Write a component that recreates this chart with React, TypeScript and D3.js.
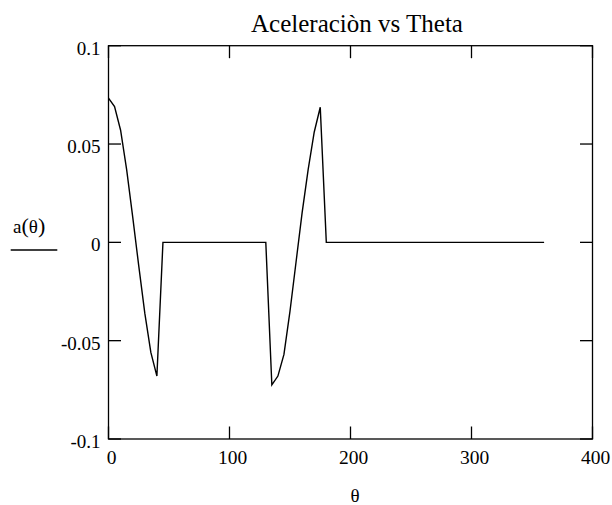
import React from "react";
import * as d3 from "d3";

const theta = [
  0, 5, 10, 15, 20, 25, 30, 35, 40, 45, 50, 55, 60, 65, 70, 75, 80, 85, 90, 95,
  100, 105, 110, 115, 120, 125, 130, 135, 140, 145, 150, 155, 160, 165, 170, 175,
  180, 185, 190, 195, 200, 205, 210, 215, 220, 225, 230, 235, 240, 245, 250, 255,
  260, 265, 270, 275, 280, 285, 290, 295, 300, 305, 310, 315, 320, 325, 330, 335,
  340, 345, 350, 355, 360,
];

const accel = [
  0.0733, 0.069, 0.057, 0.037, 0.013, -0.012, -0.036, -0.056, -0.068,
  0, 0, 0, 0, 0, 0, 0, 0, 0, 0, 0, 0, 0, 0, 0, 0, 0, 0,
  -0.0725, -0.068, -0.057, -0.035, -0.01, 0.015, 0.037, 0.056, 0.0687,
  0, 0, 0, 0, 0, 0, 0, 0, 0, 0, 0, 0, 0, 0, 0, 0, 0, 0, 0, 0, 0, 0, 0, 0, 0,
  0, 0, 0, 0, 0, 0, 0, 0, 0, 0, 0, 0,
];

const xTicks = [0, 100, 200, 300, 400];
const yTicks = [0.1, 0.05, 0, -0.05, -0.1];
const yTickLabels = ["0.1", "0.05", "0", "-0.05", "-0.1"];

const title = "Aceleraciòn vs Theta";
const xLabel = "θ";

const FONT = "'Liberation Serif', 'Times New Roman', Times, serif";
const ts = { fontFamily: FONT };

export default function App() {
  const left = 108.5;
  const right = 592.5;
  const top = 45.7;
  const bottom = 439;
  const x = d3.scaleLinear().domain([0, 400]).range([left, right]);
  const y = d3.scaleLinear().domain([-0.1, 0.1]).range([bottom, top]);
  const pts: [number, number][] = theta.map((t, i) => [t, accel[i]]);
  const line = d3
    .line<[number, number]>()
    .x((d) => x(d[0]))
    .y((d) => y(d[1]));
  const tickLen = 12.5;

  return (
    <svg
      width={612}
      height={505}
      style={{ position: "absolute", left: 0, top: 0, background: "#fff" }}
    >
      <rect x={0} y={0} width={612} height={505} fill="#fff" />
      <text x={357} y={31.5} fontSize={25} textAnchor="middle" fill="#000" style={ts}>
        {title}
      </text>
      <rect
        x={left}
        y={top}
        width={right - left}
        height={bottom - top}
        fill="none"
        stroke="#000"
        strokeWidth={1.3}
      />
      {xTicks.map((t) => (
        <g key={"xt" + t}>
          <line x1={x(t)} x2={x(t)} y1={bottom} y2={bottom - tickLen} stroke="#000" strokeWidth={1.3} />
          <line x1={x(t)} x2={x(t)} y1={top} y2={top + tickLen} stroke="#000" strokeWidth={1.3} />
          <text x={x(t) + 3} y={464} fontSize={19.5} textAnchor="middle" fill="#000" style={ts}>
            {String(t)}
          </text>
        </g>
      ))}
      {yTicks.map((t, i) => (
        <g key={"yt" + t}>
          <line x1={left} x2={left + tickLen} y1={y(t)} y2={y(t)} stroke="#000" strokeWidth={1.3} />
          <line x1={right} x2={right - tickLen} y1={y(t)} y2={y(t)} stroke="#000" strokeWidth={1.3} />
          <text x={100.5} y={y(t) + 9} fontSize={19} textAnchor="end" fill="#000" style={ts}>
            {yTickLabels[i]}
          </text>
        </g>
      ))}
      <path d={line(pts) || ""} fill="none" stroke="#000" strokeWidth={1.4} strokeLinejoin="miter" />
      <text x={355} y={502} fontSize={19} textAnchor="middle" fill="#000" style={ts}>
        {xLabel}
      </text>
      <text x={13} y={233} fontSize={19} fill="#000" style={ts}>
        <tspan>a</tspan>
        <tspan fontSize={22}>(</tspan>
        <tspan>θ</tspan>
        <tspan fontSize={22}>)</tspan>
      </text>
      <line x1={10.7} x2={57.3} y1={250} y2={250} stroke="#000" strokeWidth={1.4} />
    </svg>
  );
}
